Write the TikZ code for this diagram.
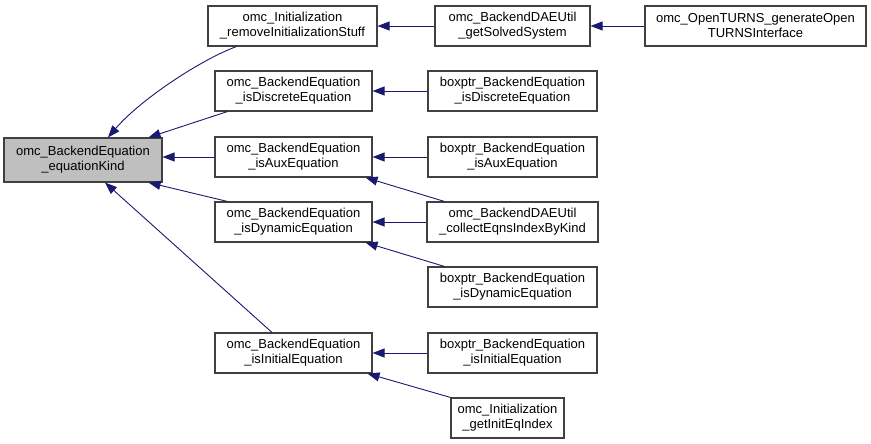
\documentclass[tikz,border=0pt]{standalone}
\usepackage{fontspec}
\setmainfont{Liberation Sans}
\usepackage{xcolor}
\usetikzlibrary{arrows.meta}

\definecolor{edgeblue}{HTML}{191970}
\definecolor{focusgray}{HTML}{BFBFBF}
\tikzset{
  fn/.style={draw=black!75, line width=1.1pt, fill=white, align=center, inner sep=0pt,
    minimum height=40pt, font=\fontsize{13}{15}\selectfont},
  call/.style={draw=edgeblue, line width=0.9pt, -{Triangle[length=12pt,width=9pt]}},
}

\begin{document}
\begin{tikzpicture}[x=1pt, y=-1pt]
            \useasboundingbox (0,0) rectangle (871,444);
            \node[fn, fill=focusgray, minimum width=158pt, minimum height=44pt] (kind) at (83,160) {omc\_BackendEquation\\\_equationKind};
            \node[fn, minimum width=169pt] (remove) at (292.5,26) {omc\_Initialization\\\_removeInitializationStuff};
            \node[fn, minimum width=157pt] (discrete) at (293.5,91) {omc\_BackendEquation\\\_isDiscreteEquation};
            \node[fn, minimum width=157pt] (aux) at (293.5,157) {omc\_BackendEquation\\\_isAuxEquation};
            \node[fn, minimum width=157pt] (dynamic) at (293.5,222) {omc\_BackendEquation\\\_isDynamicEquation};
            \node[fn, minimum width=157pt] (initial) at (293.5,353) {omc\_BackendEquation\\\_isInitialEquation};
            \node[fn, minimum width=155pt] (solved) at (512.5,26) {omc\_BackendDAEUtil\\\_getSolvedSystem};
            \node[fn, minimum width=221pt] (turns) at (755.5,26) {omc\_OpenTURNS\_generateOpen\\TURNSInterface};
            \node[fn, minimum width=169pt] (bdiscrete) at (512.5,91) {boxptr\_BackendEquation\\\_isDiscreteEquation};
            \node[fn, minimum width=169pt] (baux) at (512.5,157) {boxptr\_BackendEquation\\\_isAuxEquation};
            \node[fn, minimum width=171pt] (collect) at (512.5,222) {omc\_BackendDAEUtil\\\_collectEqnsIndexByKind};
            \node[fn, minimum width=169pt] (bdynamic) at (512.5,287) {boxptr\_BackendEquation\\\_isDynamicEquation};
            \node[fn, minimum width=169pt] (binitial) at (512.5,353) {boxptr\_BackendEquation\\\_isInitialEquation};
            \node[fn, minimum width=113pt] (initeq) at (507.5,418) {omc\_Initialization\\\_getInitEqIndex};

            % callers of equationKind
            \draw[call] ([xshift=29pt]remove.south west) .. controls (200,60) and (140,100) .. ([xshift=25pt]kind.north);
            \draw[call] ([xshift=13pt]discrete.south west) -- ([xshift=-14pt]kind.north east);
            \draw[call] (aux.west) -- (kind.east |- aux.west);
            \draw[call] ([xshift=13pt]dynamic.north west) -- ([xshift=-14pt]kind.south east);
            \draw[call] ([xshift=-21.5pt]initial.north) -- ([xshift=22pt]kind.south);

            % second level
            \draw[call] (solved) -- (remove);
            \draw[call] (turns) -- (solved);
            \draw[call] (bdiscrete) -- (discrete);
            \draw[call] (baux) -- (aux);
            \draw[call] ([xshift=18pt]collect.north west) -- ([xshift=-7pt]aux.south east);
            \draw[call] (collect) -- (dynamic);
            \draw[call] ([xshift=17pt]bdynamic.north west) -- ([xshift=-7pt]dynamic.south east);
            \draw[call] (binitial) -- (initial);
            \draw[call] (initeq.north west) -- ([xshift=-5pt]initial.south east);
        \end{tikzpicture}
\end{document}
